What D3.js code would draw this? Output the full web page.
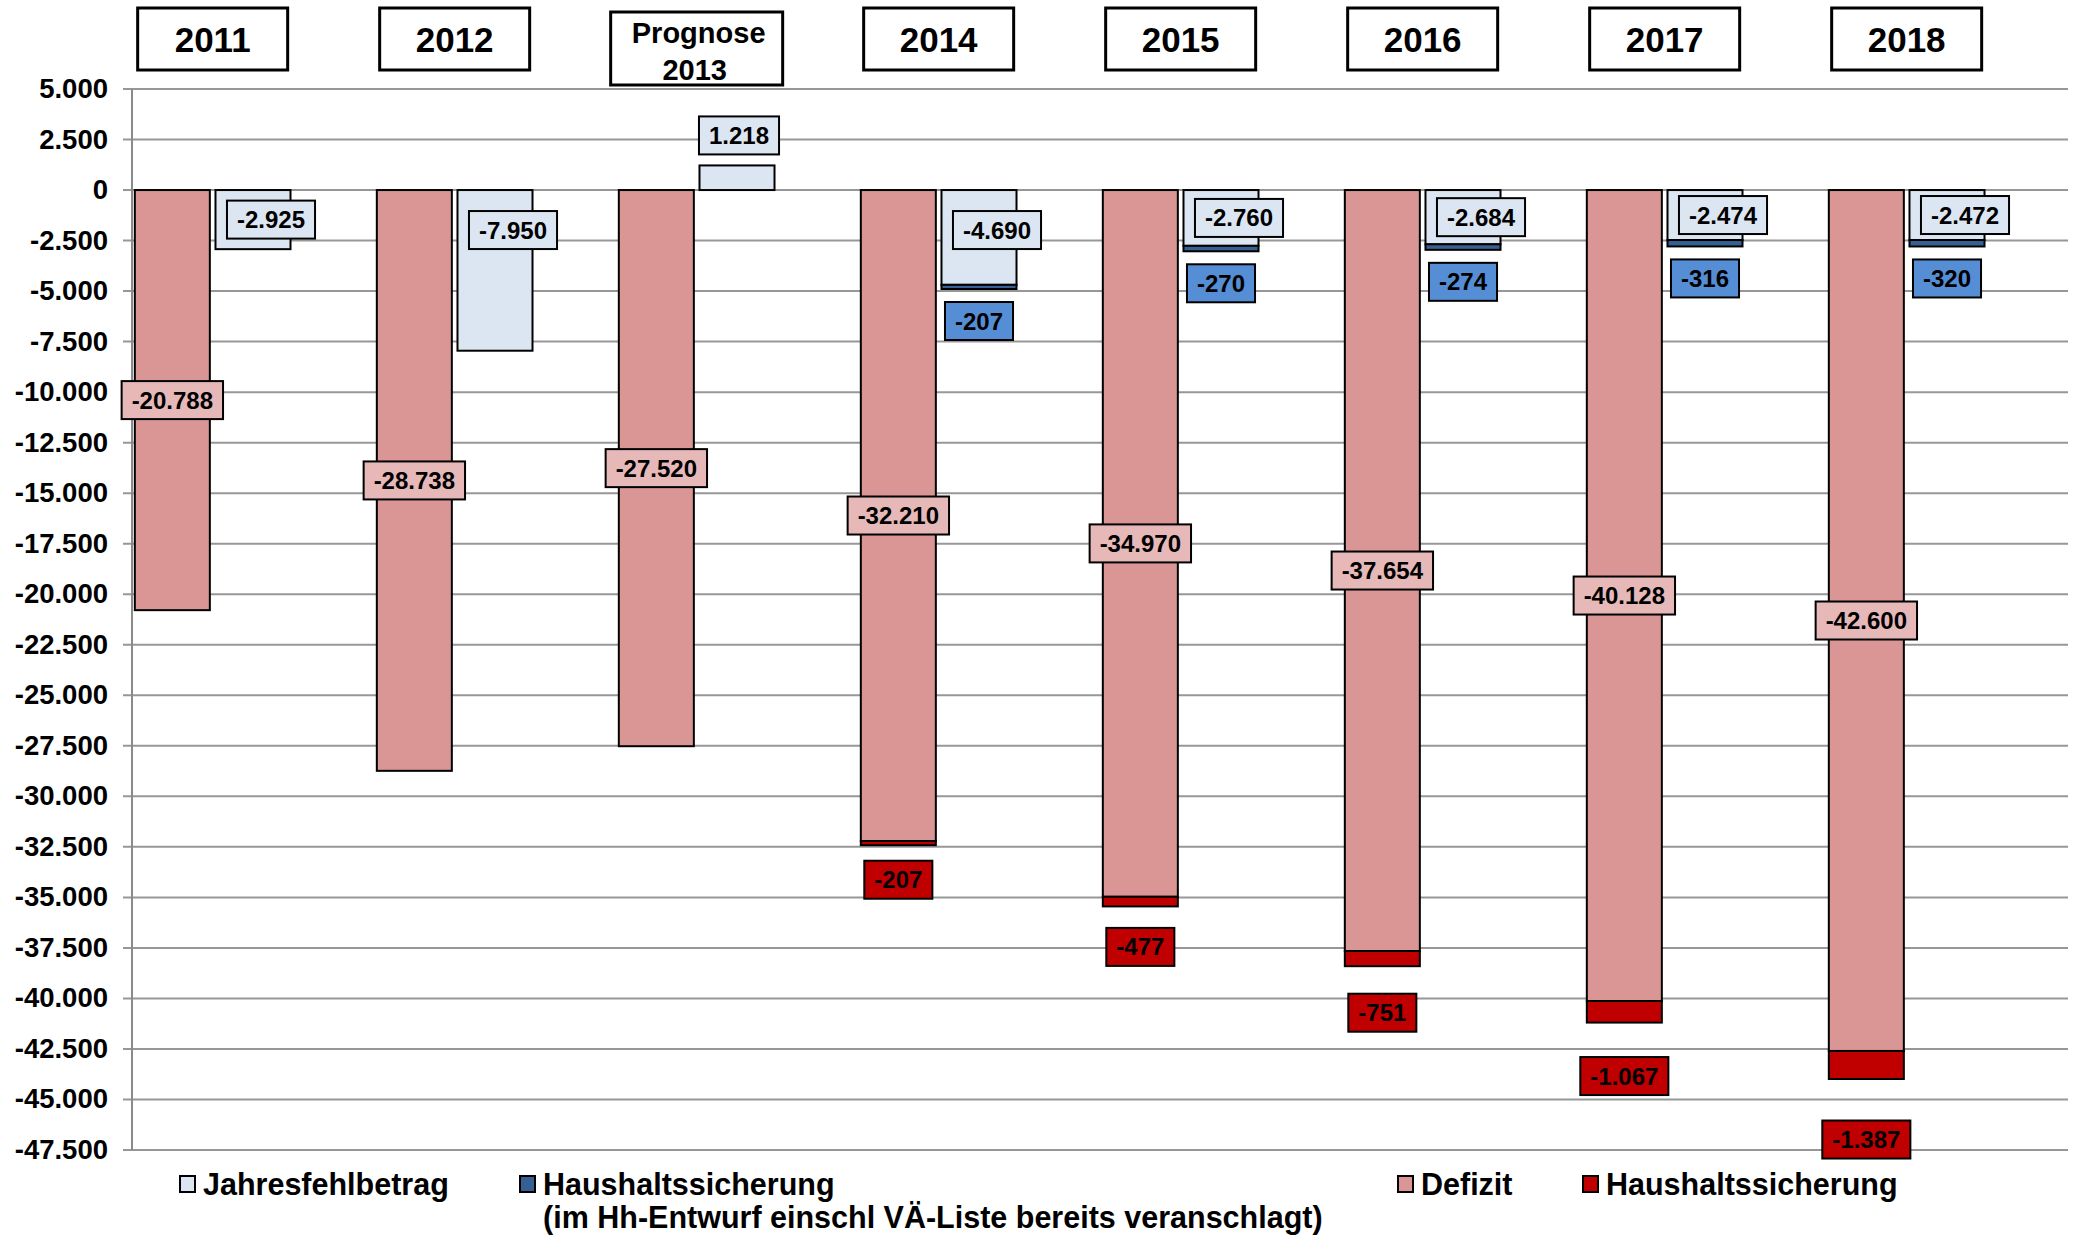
<!DOCTYPE html>
<html>
<head>
<meta charset="utf-8">
<script src="https://cdn.jsdelivr.net/npm/d3@7"></script>
<style>
  body{margin:0;background:#fff;}
  text{font-family:"Liberation Sans",Arial,sans-serif;font-weight:bold;fill:#000;}
</style>
</head>
<body>
<div id="chart"></div>
<script>
// values in Tsd. EUR
const years=["2011","2012","Prognose 2013","2014","2015","2016","2017","2018"];
const defizit=[-20788,-28738,-27520,-32210,-34970,-37654,-40128,-42600];
const hhsRot=[null,null,null,-207,-477,-751,-1067,-1387];
const jahresfehlbetrag=[-2925,-7950,1218,-4690,-2760,-2684,-2474,-2472];
const hhsBlau=[null,null,null,-207,-270,-274,-316,-320];
const yTicks=d3.range(5000,-47501,-2500);

const W=2076,H=1236;
const plotL=132,plotR=2068,plotT=89,plotB=1150;

const de=d3.formatLocale({decimal:",",thousands:".",grouping:[3],currency:["","€"],minus:"-"});
const fmt=de.format(",d");

const svg=d3.select("#chart").append("svg")
    .attr("width",W).attr("height",H);
svg.append("rect").attr("width",W).attr("height",H).attr("fill","#fff");

const y=d3.scaleLinear().domain([-47500,5000]).range([plotB,plotT]);
const x=d3.scaleBand().domain(years).range([plotL,plotR]).paddingInner(0).paddingOuter(0);
const sub=d3.scaleBand().domain(["def","jah","leer"]).range([0,x.bandwidth()])
    .paddingInner(0.07).paddingOuter(0.035);
const bw=sub.bandwidth();

// grid
svg.append("g").selectAll("line").data(yTicks).join("line")
    .attr("x1",plotL-9).attr("x2",plotR)
    .attr("y1",d=>y(d)).attr("y2",d=>y(d))
    .attr("stroke","#979797").attr("stroke-width",2);
svg.append("line").attr("x1",plotL).attr("x2",plotL).attr("y1",plotT).attr("y2",plotB)
    .attr("stroke","#8a8a8a").attr("stroke-width",2);
svg.append("g").selectAll("text").data(yTicks).join("text")
    .attr("x",108).attr("y",d=>y(d)+9)
    .attr("text-anchor","end").style("font-size","27.5px")
    .text(d=>fmt(d));

const rows=years.map((yr,i)=>({yr,i,def:defizit[i],rot:hhsRot[i],jah:jahresfehlbetrag[i],blau:hhsBlau[i]}));

const bars=svg.append("g");
function bar(x0,v0,v1,fill){
    bars.append("rect")
        .attr("x",x0).attr("width",bw)
        .attr("y",y(Math.max(v0,v1))).attr("height",Math.abs(y(v0)-y(v1)))
        .attr("fill",fill).attr("stroke","#000").attr("stroke-width",2);
}
rows.forEach(d=>{
    const xd=x(d.yr)+sub("def"), xj=x(d.yr)+sub("jah");
    bar(xd,0,d.def,"#d99694");
    if(d.rot!=null) bar(xd,d.def,d.def+d.rot,"#c00000");
    bar(xj,0,d.jah,"#dce6f2");
    if(d.blau!=null) bar(xj,d.jah,d.jah+d.blau,"#376092");
});

// data labels
const labels=svg.append("g");
function label(cx,cy,txt,fill){
    const g=labels.append("g");
    const t=g.append("text").attr("x",cx).attr("y",cy+8.5)
        .attr("text-anchor","middle").style("font-size","24px").text(txt);
    const w=t.node().getComputedTextLength()+20;
    g.insert("rect","text").attr("x",cx-w/2).attr("y",cy-19).attr("width",w).attr("height",38)
        .attr("fill",fill).attr("stroke","#000").attr("stroke-width",2);
}
rows.forEach(d=>{
    const cd=x(d.yr)+sub("def")+bw/2, cj=x(d.yr)+sub("jah")+bw/2;
    label(cd,(y(0)+y(d.def))/2,fmt(d.def),"#e6b9b8");
    if(d.jah>0){
        label(cj+2,y(d.jah)-30,fmt(d.jah),"#dce6f2");
    }else{
        label(cj+18,Math.min((y(0)+y(d.jah))/2,y(0)+40),fmt(d.jah),"#dce6f2");
    }
    if(d.blau!=null) label(cj,y(d.jah+d.blau)+32,fmt(d.blau),"#558ed5");
    if(d.rot!=null) label(cd,y(d.def+d.rot)+30+Math.abs(d.rot)*0.022,fmt(d.rot),"#c00000");
});

// year header boxes
const heads=svg.append("g");
rows.forEach(d=>{
    const cx=x(d.yr)+(sub("def")+sub("jah")+bw)/2;
    const two=d.yr.indexOf(" ")>0;
    const w=two?172:150, h=two?73:62, t0=two?12:8;
    heads.append("rect").attr("x",cx-w/2).attr("y",t0).attr("width",w).attr("height",h)
        .attr("fill","#fff").attr("stroke","#000").attr("stroke-width",3);
    if(two){
        const parts=d.yr.split(" ");
        heads.append("text").attr("x",cx+2).attr("y",t0+31).attr("text-anchor","middle")
            .style("font-size","29px").text(parts[0]);
        heads.append("text").attr("x",cx-2).attr("y",t0+68).attr("text-anchor","middle")
            .style("font-size","29px").text(parts[1]);
    }else{
        heads.append("text").attr("x",cx).attr("y",t0+h/2+12.5).attr("text-anchor","middle")
            .style("font-size","35px").text(d.yr);
    }
});

// legend
const legend=[
    {x:180,fill:"#dce6f2",lines:["Jahresfehlbetrag"]},
    {x:520,fill:"#376092",lines:["Haushaltssicherung","(im Hh-Entwurf einschl VÄ-Liste bereits veranschlagt)"]},
    {x:1398,fill:"#d99694",lines:["Defizit"]},
    {x:1583,fill:"#c00000",lines:["Haushaltssicherung"]}
];
const lg=svg.append("g");
legend.forEach(l=>{
    lg.append("rect").attr("x",l.x).attr("y",1176).attr("width",15).attr("height",16)
        .attr("fill",l.fill).attr("stroke","#000").attr("stroke-width",2);
    l.lines.forEach((s,k)=>{
        lg.append("text").attr("x",l.x+23).attr("y",1195+k*33)
            .style("font-size","30.5px").text(s);
    });
});
</script>
</body>
</html>
